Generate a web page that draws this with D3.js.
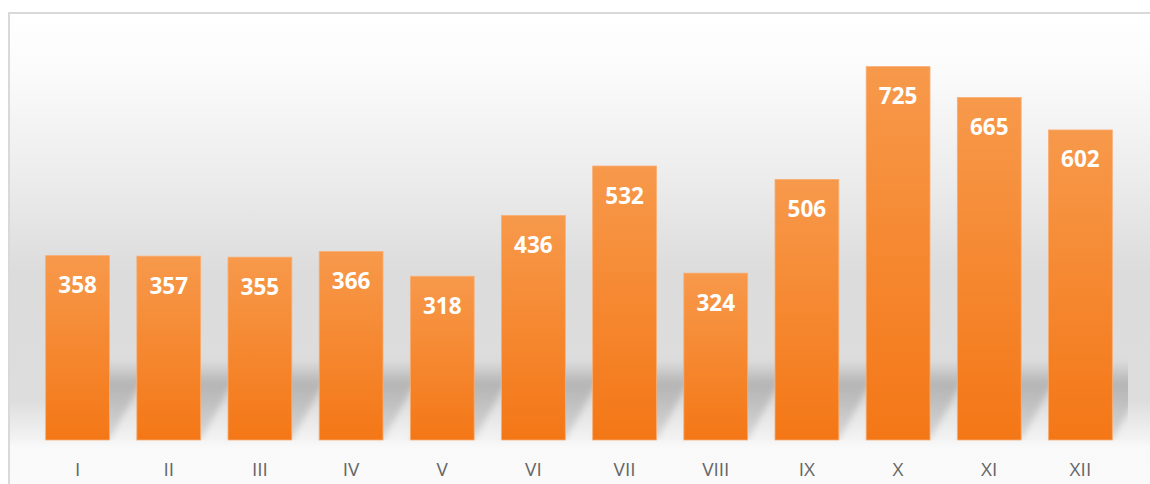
<!DOCTYPE html>
<html><head><meta charset="utf-8">
<script src="https://cdn.jsdelivr.net/npm/d3@7/dist/d3.min.js"></script>
<style>body{margin:0;background:#fff;}svg{display:block;}</style>
</head><body>
<script>
const categories = ["I","II","III","IV","V","VI","VII","VIII","IX","X","XI","XII"];
const values = [358,357,355,366,318,436,532,324,506,725,665,602];
const yMax = 800;

const W = 1150, H = 484;
const svg = d3.select("body").append("svg").attr("width", W).attr("height", H);
const defs = svg.append("defs");

const bg = defs.append("linearGradient").attr("id","bg")
  .attr("gradientUnits","userSpaceOnUse").attr("x1",0).attr("y1",14).attr("x2",0).attr("y2",484);
[[0,"#ffffff"],[0.12,"#fbfbfb"],[0.35,"#ececec"],[0.55,"#dcdcdc"],[0.82,"#dddddd"],[0.905,"#f3f3f3"],[0.92,"#f9f9f9"],[1,"#fafafa"]]
  .forEach(s=>bg.append("stop").attr("offset",s[0]).attr("stop-color",s[1]));

const bar = defs.append("linearGradient").attr("id","bar").attr("x1",0).attr("y1",0).attr("x2",0).attr("y2",1);
bar.append("stop").attr("offset",0).attr("stop-color","#f7994b");
bar.append("stop").attr("offset",1).attr("stop-color","#f47716");

const sh = defs.append("linearGradient").attr("id","sh").attr("x1",0).attr("y1",0).attr("x2",0).attr("y2",1);
sh.append("stop").attr("offset",0).attr("stop-color","#b4b4b4").attr("stop-opacity",0.0);
sh.append("stop").attr("offset",0.3).attr("stop-color","#b0b0b0").attr("stop-opacity",0.9);
sh.append("stop").attr("offset",1).attr("stop-color","#c8c8c8").attr("stop-opacity",0.6);
defs.append("filter").attr("id","blur").attr("x","-20%").attr("y","-20%").attr("width","140%").attr("height","140%")
  .append("feGaussianBlur").attr("stdDeviation",3);
defs.append("clipPath").attr("id","clip").append("rect").attr("x",10).attr("y",14).attr("width",1118).attr("height",426);

// frame
svg.append("rect").attr("x",9).attr("y",13).attr("width",1160).attr("height",500)
  .attr("fill","url(#bg)").attr("stroke","#d9d9d9").attr("stroke-width",2);

const x = d3.scaleBand().domain(categories).range([32,1126]).paddingInner(0.3).paddingOuter(0.15);
const y = d3.scaleLinear().domain([0,yMax]).range([440,28]);

// shadows
const shG = svg.append("g").attr("clip-path","url(#clip)");
shG.selectAll("path").data(values).join("path")
  .attr("d",(d,i)=>{
    const x0 = x(categories[i]), x1 = x0 + x.bandwidth();
    const hh = 80, s = 45;
    return `M${x0},${y(0)} L${x1},${y(0)} L${x1+s},${y(0)-hh} L${x0+s},${y(0)-hh} Z`;
  })
  .attr("fill","url(#sh)").attr("filter","url(#blur)");

// bars
svg.append("g").selectAll("rect").data(values).join("rect")
  .attr("x",(d,i)=>x(categories[i]))
  .attr("y",d=>y(d))
  .attr("width",x.bandwidth())
  .attr("height",d=>y(0)-y(d))
  .attr("fill","url(#bar)")
  .attr("stroke","#f9ad72").attr("stroke-width",0.8);

// labels
svg.append("g").selectAll("text").data(values).join("text")
  .attr("x",(d,i)=>x(categories[i])+x.bandwidth()/2)
  .attr("y",d=>y(d)+37.5)
  .attr("text-anchor","middle")
  .attr("font-family","'Open Sans', sans-serif").attr("font-weight","bold").attr("font-size",22.5)
  .attr("fill","#ffffff")
  .text(d=>d);

// x axis
const ax = svg.append("g").attr("transform","translate(0,440)").call(d3.axisBottom(x).tickSize(0).tickPadding(23));
ax.select(".domain").remove();
ax.selectAll("text").attr("font-family","'Open Sans', sans-serif").attr("font-size",19).attr("fill","#666666");
</script>
</body></html>
